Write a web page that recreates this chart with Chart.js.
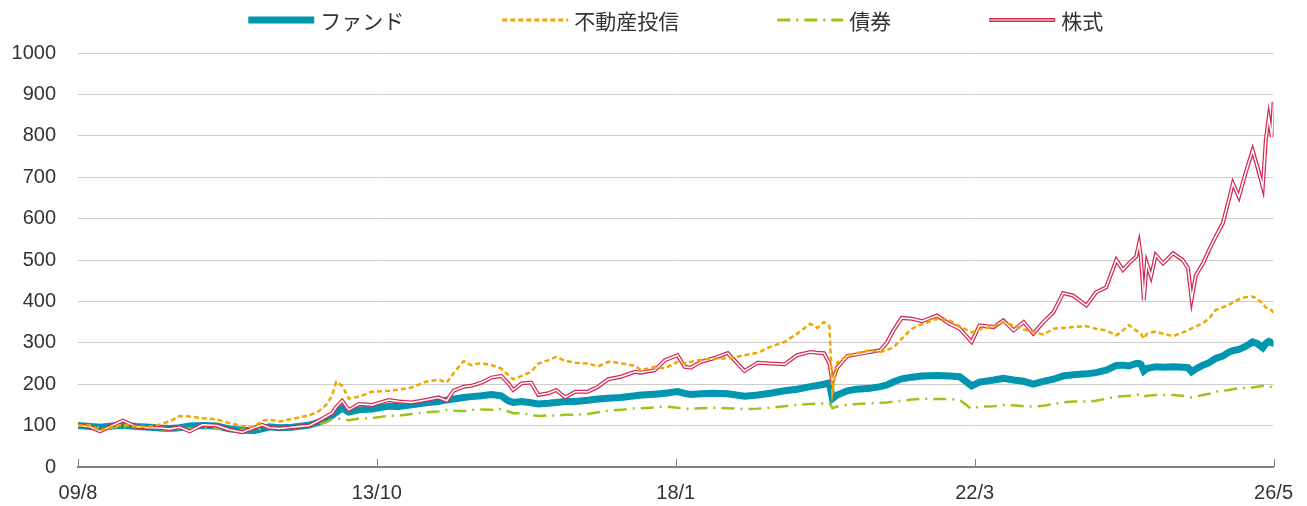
<!DOCTYPE html>
<html lang="ja">
<head>
<meta charset="utf-8">
<title>ファンドと各資産の推移</title>
<script src="https://cdn.jsdelivr.net/npm/chart.js@4.4.1/dist/chart.umd.min.js"></script>
<style>
  html, body { margin: 0; padding: 0; background: #fff; }
</style>
</head>
<body>
<canvas id="chart" width="1307" height="506"></canvas>
<script>
const seriesNames = ["ファンド", "不動産投信", "債券", "株式"];
const tickPos = [0, 50, 100, 150, 200];
const tickLabels = ["09/8", "13/10", "18/1", "22/3", "26/5"];

// position along the period (0 = 09/8, 200 = 26/5)
const xs = [
  0, 2, 3.7, 5.7, 7.5, 9.8, 12, 13.7, 15.3, 17,
  18.7, 20.8, 23.2, 25.3, 27.5, 29.5, 30.8, 32, 33.7, 35.8,
  38.7, 40.3, 41.5, 42.5, 43.2, 44.2, 45.3, 47, 49.2, 52,
  53.7, 55.8, 58.2, 60.3, 61.7, 62.8, 64.5, 65.8, 67.5, 69.2,
  70.8, 72, 72.8, 74.2, 75.8, 77, 78.7, 80, 81.5, 83.2,
  85.3, 87, 88.7, 90.8, 93.2, 94.2, 96.5, 98.2, 100.3, 101.5,
  102.5, 104.2, 106.2, 108.7, 111.5, 113.7, 115.8, 118.2, 120.3, 122.5,
  123.7, 124.8, 125.7, 126.2, 127, 128.7, 130.3, 132.5, 134.2, 135.3,
  136.5, 137.8, 139.5, 141.2, 143.7, 145.8, 147.5, 149.5, 150.8, 153.2,
  154.8, 156.5, 158.2, 159.8, 161.5, 163.2, 164.8, 166.5, 168.7, 170.3,
  172, 173.7, 174.8, 175.8, 177, 177.5, 177.8, 178.3, 178.8, 179.5,
  180.3, 181.5, 183.2, 184.8, 185.7, 186.3, 187, 188.2, 189.2, 190.3,
  191.5, 192.5, 193.2, 194.2, 195.3, 196.5, 197.3, 198.2, 198.7, 199.2,
  199.7, 200
];

const fund = [
  100, 98, 96, 99, 101, 98, 96, 94, 93, 95,
  99, 100, 99, 92, 89, 88, 92, 97, 95, 96,
  101, 108, 116, 124, 132, 142, 133, 138, 140, 147,
  146, 150, 155, 158, 162, 164, 168, 170, 172, 175,
  172, 160, 156, 158, 155, 152, 154, 156, 158, 158,
  161, 164, 166, 168, 172, 174, 176, 178, 182, 178,
  175, 177, 178, 177, 171, 174, 178, 184, 188, 194,
  197, 200, 203, 165, 174, 184, 188, 190, 194, 198,
  206, 213, 217, 220, 221, 220, 218, 196, 205, 210,
  214, 210, 207, 200, 207, 212, 220, 223, 225, 228,
  234, 245, 246, 244, 250, 250, 248, 232, 238, 240,
  242, 241, 242, 241, 240, 230, 237, 246, 252, 262,
  268, 277, 281, 284, 291, 302, 298, 288, 298, 303,
  300, 305
];

const reit = [
  100, 100, 88, 97, 102, 98, 97, 103, 110, 123,
  122, 118, 115, 106, 99, 97, 112, 114, 110, 116,
  125, 135, 150, 172, 206, 196, 165, 170, 182, 184,
  187, 192, 206, 211, 204, 226, 256, 246, 251, 246,
  238, 222, 212, 220, 230, 250, 258, 266, 256, 252,
  250, 243, 254, 251, 244, 234, 242, 238, 254, 250,
  254, 259, 262, 262, 270, 276, 290, 302, 322, 346,
  336, 350, 340, 180, 252, 270, 275, 282, 278, 282,
  290, 310, 334, 345, 358, 354, 340, 325, 332, 340,
  350, 342, 332, 326, 320, 334, 336, 338, 340, 334,
  330, 318, 330, 343, 330, 325, 322, 310, 322, 325,
  327, 322, 316, 325, 330, 335, 339, 348, 359, 379,
  386, 391, 398, 405, 410, 412, 405, 395, 385, 384,
  378, 373
];

const bond = [
  100, 97, 95, 96, 97, 96, 94, 92, 89, 91,
  93, 94, 93, 91, 90, 90, 92, 94, 93, 95,
  99, 103, 108, 115, 117, 116, 113, 117, 118, 124,
  124, 128, 132, 134, 138, 136, 135, 138, 139, 138,
  140, 134, 130, 130, 126, 123, 125, 124, 126, 126,
  128, 132, 136, 138, 142, 142, 144, 146, 143, 140,
  141, 142, 143, 142, 140, 141, 143, 147, 150, 152,
  153, 154, 155, 142, 146, 150, 152, 154, 155, 156,
  158, 160, 163, 165, 164, 164, 162, 140, 146, 147,
  150, 149, 147, 146, 148, 152, 156, 158, 158, 160,
  165, 170, 171, 172, 174, 175, 174, 170, 172, 173,
  174, 174, 174, 172, 170, 168, 171, 174, 177, 182,
  184, 186, 188, 190, 191, 192, 194, 196, 195, 194,
  193, 193
];

const stock = [
  100, 97, 86, 100, 112, 97, 95, 94, 92, 96,
  86, 102, 100, 90, 84, 95, 102, 95, 93, 96,
  100, 112, 122, 130, 145, 160, 138, 152, 150, 162,
  158, 156, 162, 168, 160, 184, 194, 196, 204, 216,
  220, 202, 186, 202, 204, 174, 178, 186, 168, 182,
  182, 194, 212, 218, 230, 228, 234, 258, 270, 242,
  240, 254, 262, 275, 232, 252, 250, 248, 270, 278,
  276, 275, 250, 206, 240, 268, 272, 278, 282, 300,
  332, 360, 358, 352, 366, 346, 334, 302, 342, 338,
  354, 330, 350, 322, 350, 374, 420, 414, 390, 422,
  434, 500, 476, 492, 508, 540, 508, 403, 492, 460,
  512, 492, 516, 500, 480, 405, 463, 492, 524, 556,
  588, 644, 685, 652, 709, 765, 725, 676, 789, 845,
  797, 882
];

const pts = (arr) => xs.map((x, i) => ({ x, y: arr[i] }));

const tickFont = { family: "'Liberation Sans', Arial, sans-serif", size: 20 };

const line = (label, data, color, width, dash, order) => ({
  label,
  data: pts(data),
  borderColor: color,
  backgroundColor: color,
  borderWidth: width,
  borderDash: dash,
  pointRadius: 0,
  tension: 0,
  order,
});

// x-axis ticks point up into the plot
const innerTicks = {
  id: "innerTicks",
  afterDatasetsDraw(chart) {
    const { ctx, chartArea, scales } = chart;
    const x = scales.x;
    ctx.save();
    ctx.strokeStyle = "#808080";
    ctx.lineWidth = 1;
    x.ticks.forEach((t, i) => {
      const px = Math.round(x.getPixelForTick(i)) + 0.5;
      ctx.beginPath();
      ctx.moveTo(px, chartArea.bottom - 8);
      ctx.lineTo(px, chartArea.bottom);
      ctx.stroke();
    });
    ctx.restore();
  },
};

// legend row centred over the plot area
const topLegend = {
  id: "topLegend",
  afterDraw(chart) {
    const { ctx, chartArea } = chart;
    const items = chart.data.datasets.filter((d) => d.label !== "");
    const lineW = 66, gap = 6, space = 98, y = 20;
    ctx.save();
    ctx.font = "21px 'Noto Sans CJK JP', sans-serif";
    ctx.textBaseline = "middle";
    const widths = items.map((d) => ctx.measureText(d.label).width);
    const total = widths.reduce((s, w) => s + lineW + gap + w, 0) + space * (items.length - 1);
    let cx = (chartArea.left + chartArea.right) / 2 - total / 2;
    items.forEach((d, i) => {
      ctx.beginPath();
      ctx.setLineDash(d.borderDash || []);
      ctx.strokeStyle = d.borderColor;
      ctx.lineWidth = Math.max(d.borderWidth, 3);
      ctx.moveTo(cx, y);
      ctx.lineTo(cx + lineW, y);
      ctx.stroke();
      if (d.label === seriesNames[3]) {
        ctx.beginPath();
        ctx.strokeStyle = "#e58ea4";
        ctx.lineWidth = 2;
        ctx.moveTo(cx + 1, y);
        ctx.lineTo(cx + lineW - 1, y);
        ctx.stroke();
      }
      ctx.setLineDash([]);
      ctx.fillStyle = "#333";
      ctx.fillText(d.label, cx + lineW + gap, y + 1);
      cx += lineW + gap + widths[i] + space;
    });
    ctx.restore();
  },
};

new Chart(document.getElementById("chart"), {
  type: "line",
  data: {
    datasets: [
      line(seriesNames[0], fund, "#0096b0", 7, [], 5),
      line(seriesNames[1], reit, "#f0a800", 2.5, [5, 3], 1),
      line(seriesNames[2], bond, "#9ec41c", 2.5, [13, 6, 2, 6], 4),
      line(seriesNames[3], stock, "#d42a52", 4, [], 3),
      line("", stock, "#ffffff", 1.5, [], 2),
    ],
  },
  options: {
    responsive: false,
    animation: false,
    layout: { padding: { top: 53, right: 29, bottom: 0, left: 0 } },
    plugins: {
      tooltip: { enabled: false },
      legend: { display: false },
    },
    scales: {
      x: {
        type: "linear",
        min: 0,
        max: 200,
        afterBuildTicks: (s) => { s.ticks = tickPos.map((v) => ({ value: v })); },
        afterFit: (s) => { s.height = 39; },
        grid: { display: false, drawTicks: false },
        border: { display: true, color: "#808080", width: 2 },
        ticks: {
          autoSkip: false,
          maxRotation: 0,
          padding: 14,
          color: "#333",
          font: tickFont,
          callback: (v) => tickLabels[tickPos.indexOf(v)],
        },
      },
      y: {
        min: 0,
        max: 1000,
        afterFit: (s) => { s.width = 78; },
        grid: {
          drawTicks: false,
          color: (c) => (c.tick && c.tick.value === 0 ? "rgba(0,0,0,0)" : "#cccccc"),
          lineWidth: 1,
        },
        border: { display: false },
        ticks: {
          stepSize: 100,
          padding: 22,
          color: "#333",
          font: tickFont,
          callback: (v) => String(v),
        },
      },
    },
  },
  plugins: [innerTicks, topLegend],
});
</script>
</body>
</html>
